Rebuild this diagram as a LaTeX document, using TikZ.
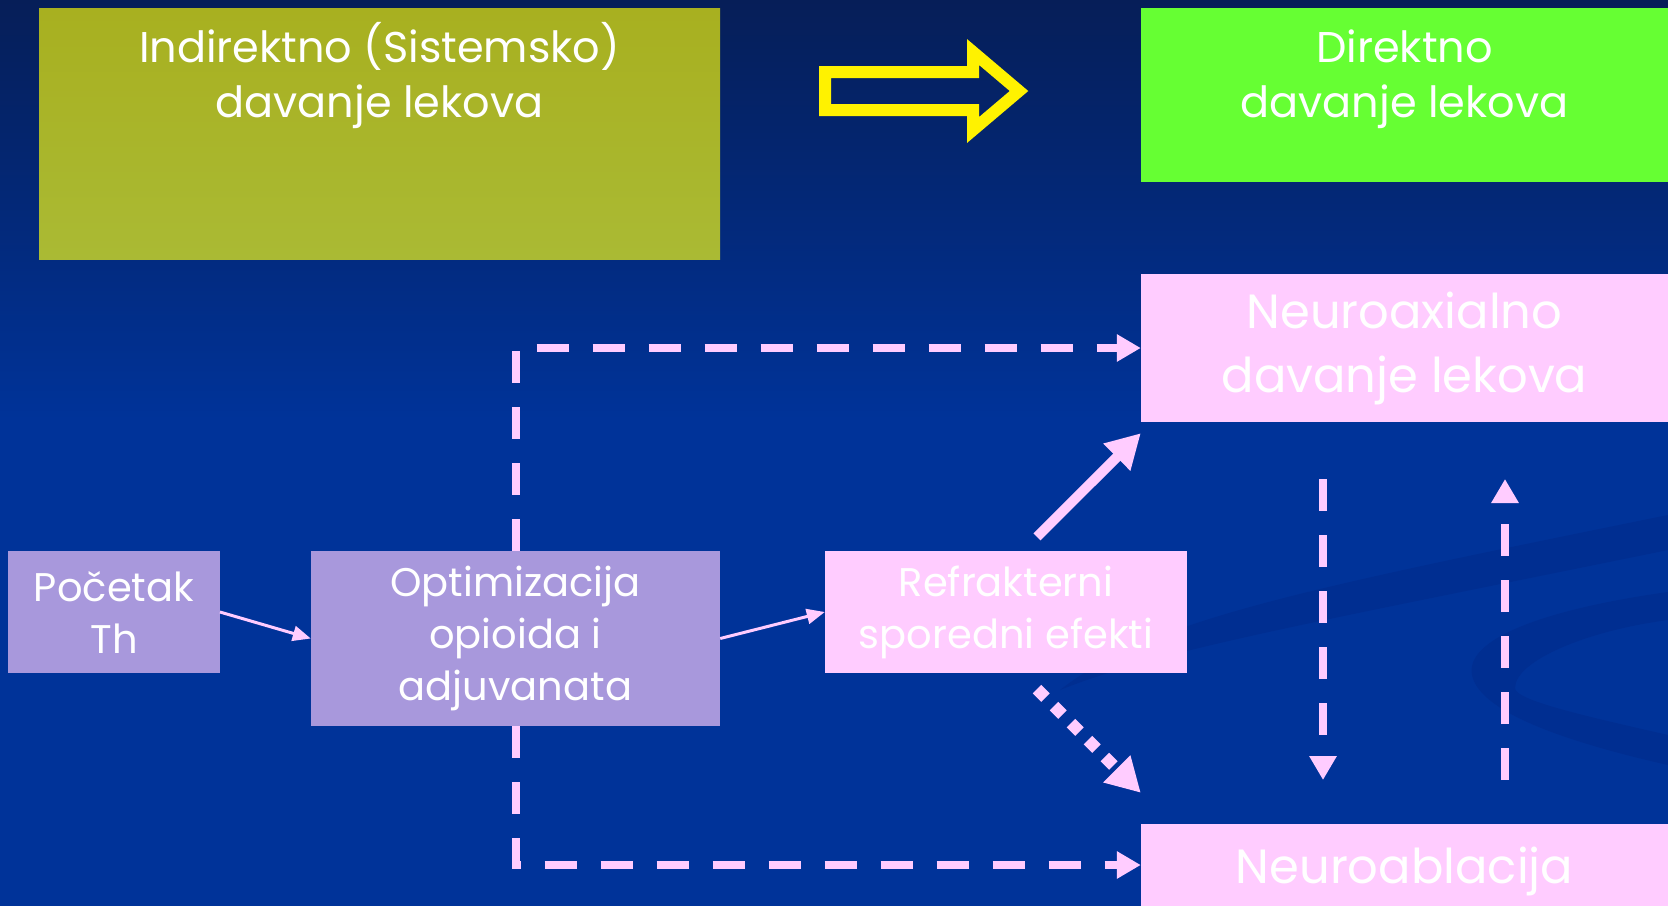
\documentclass[tikz,border=0pt]{standalone}
\usepackage{fontspec}
\setmainfont{Poppins}
\usetikzlibrary{arrows.meta,positioning,calc}
\definecolor{slideblue}{RGB}{0,51,153}
\definecolor{slidenavy}{RGB}{6,30,88}
\definecolor{swooshblue}{RGB}{0,46,145}
\definecolor{olivetop}{RGB}{168,176,32}
\definecolor{olivebot}{RGB}{170,186,52}
\definecolor{directgreen}{RGB}{102,255,51}
\definecolor{pinkbox}{RGB}{255,204,255}
\definecolor{lavbox}{RGB}{168,152,220}

\begin{document}
\begin{tikzpicture}
  [x=1pt,y=-1pt,
   boxN/.style={rectangle,inner sep=0pt,align=center,text=white},
   headT/.style={boxN,anchor=north,font=\fontsize{43}{55}\selectfont},
   bigN/.style={boxN,fill=pinkbox,minimum width=527pt,font=\fontsize{48}{64}\selectfont},
   stepN/.style={boxN,font=\fontsize{40}{52}\selectfont},
   thinA/.style={-{Triangle[length=18pt,width=15pt]},line width=3pt,pinkbox},
   dashA/.style={-{Triangle[length=24pt,width=26pt]},line width=8pt,pinkbox,dash pattern=on 32pt off 24pt},
  ]

 % background
 \useasboundingbox (0,0) rectangle (1668,906);
 \fill[top color=slidenavy,bottom color=slideblue] (0,0) rectangle (1668,420);
 \fill[slideblue] (0,419) rectangle (1668,906);
 \fill[swooshblue] (1060,690) .. controls (1150,620) and (1300,590) .. (1668,515)
   -- (1668,550) .. controls (1300,625) and (1160,650) .. (1060,690) -- cycle;
 \fill[swooshblue] (1668,592) .. controls (1540,610) and (1465,640) .. (1472,675)
   .. controls (1480,715) and (1580,745) .. (1668,765)
   -- (1668,735) .. controls (1580,715) and (1515,700) .. (1515,688)
   .. controls (1515,660) and (1590,630) .. (1668,620) -- cycle;

 % top row
 \node[boxN,top color=olivetop,bottom color=olivebot,minimum width=681pt,minimum height=251.5pt]
   (indir) at (379.5,134) {};
 \node[boxN,fill=directgreen,minimum width=527pt,minimum height=173.5pt]
   (direkt) at (1404.5,95) {};
 \node[headT] (indirtxt) at ($(indir.north)+(0,14)$) {Indirektno (Sistemsko)\\davanje lekova};
 \node[headT] (direkttxt) at ($(direkt.north)+(0,22)$) {Direktno\\davanje lekova};

 \draw[yellow,line width=12pt,miter limit=10]
   (825,72) -- (973,72) -- (973,52) -- (1019,91) -- (973,130) -- (973,110) -- (825,110) -- cycle;

 % right column
 \node[bigN,minimum height=148pt] (neuax)  at (1404.5,348) {Neuroaxialno\\davanje lekova};
 \node[bigN,minimum height=82pt,text height=50pt] (neuabl) at (1404.5,865) {Neuroablacija};

 % steps
 \node[stepN,fill=lavbox,minimum width=211.5pt,minimum height=122pt] (start) at (114,612)   {Početak\\Th};
 \node[stepN,fill=lavbox,minimum width=409pt,minimum height=175pt]   (optim) at (515.5,638.5) {Optimizacija\\opioida i\\adjuvanata};
 \node[stepN,fill=pinkbox,minimum width=362pt,minimum height=122pt]  (refr)  at (1006,612)  {Refrakterni\\sporedni efekti};

 \coordinate (upfrom)   at ($(refr.north)+(31,-14)$);
 \coordinate (upto)     at ($(neuax.south west)+(0,11)$);
 \coordinate (downfrom) at ($(refr.south)+(31,16)$);
 \coordinate (downto)   at ($(neuabl.north west)+(0,-31)$);
 \coordinate (ldtop) at (1323,479);
 \coordinate (ldbot) at (1323,780);
 \coordinate (rutop) at (1505,479);
 \coordinate (rubot) at (1505,780);

 \draw[thinA] (start.east) -- (optim.west);
 \draw[thinA] (optim.east) -- (refr.west);
 \draw[dashA] (optim.north) |- (neuax.west);
 \draw[dashA] (optim.south) |- (neuabl.west);
 \draw[-{Triangle[length=34pt,width=36pt]},line width=10pt,pinkbox] (upfrom) -- (upto);
 \draw[-{Triangle[length=34pt,width=36pt]},line width=12pt,pinkbox,dash pattern=on 12pt off 12pt]
   (downfrom) -- (downto);
 \draw[dashA] (ldtop) -- (ldbot);
 \draw[dashA] (rubot) -- (rutop);

\end{tikzpicture}
\end{document}
